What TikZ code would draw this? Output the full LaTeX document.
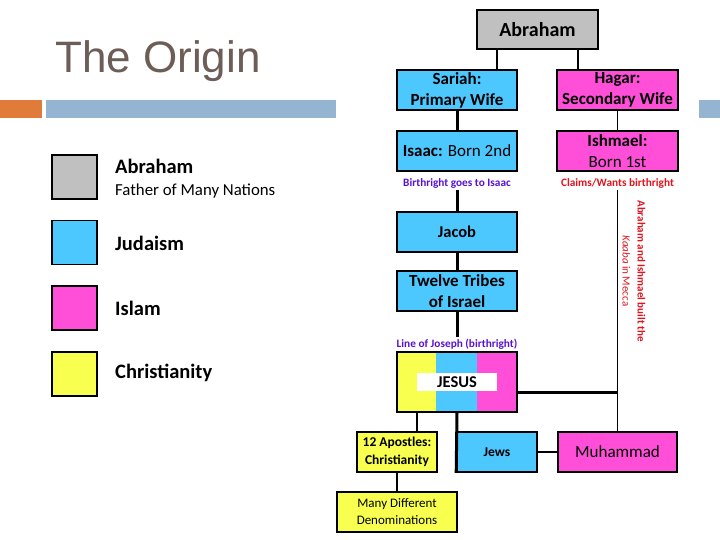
\documentclass[tikz,border=0pt]{standalone}
\usepackage{fontspec}
\setmainfont{Carlito}
\newfontfamily\titlefont{Liberation Sans}
\definecolor{cgray}{HTML}{C0C0C0}
\definecolor{cblue}{HTML}{4DC8FF}
\definecolor{cmag}{HTML}{FF4FD8}
\definecolor{cyel}{HTML}{F8FF4F}
\definecolor{corange}{HTML}{E07B39}
\definecolor{cbar}{HTML}{94B4D1}
\definecolor{ctitle}{HTML}{6D5D57}
\definecolor{cpurple}{HTML}{5A12D2}
\definecolor{cred}{HTML}{E0141E}
\tikzset{
  box/.style={draw, line width=1.6pt, rectangle, inner sep=0pt, align=center, minimum height=40pt},
  conn/.style={line width=1.6pt},
  thick conn/.style={line width=3pt},
  legsq/.style={draw, line width=1.2pt, rectangle, minimum width=45pt, minimum height=44pt, inner sep=0pt},
  legtxt/.style={anchor=west, inner sep=0pt, font=\fontsize{20.5}{22}\selectfont\bfseries},
  note/.style={inner sep=1.5pt, font=\fontsize{11.3}{13}\selectfont\bfseries}
}
\begin{document}
\begin{tikzpicture}[x=1pt,y=-1pt]
\useasboundingbox (0,0) rectangle (720,540);
\fill[white] (0,0) rectangle (720,540);
% title and bars
\node[anchor=base west, inner sep=0pt, text=ctitle, font=\titlefont\fontsize{44}{48}\selectfont] (title) at (55,73) {The Origin};
\fill[corange] (0,100) rectangle (42,118);
\fill[cbar] (46,100) rectangle (336,118);
\fill[cbar] (699,100) rectangle (720,118);
% legend
\node[legsq, fill=cgray] (lg1) at (74.5,177) {};
\node[legsq, fill=cblue] (lg2) at (74.5,242.5) {};
\node[legsq, fill=cmag] (lg3) at (74.5,308) {};
\node[legsq, fill=cyel] (lg4) at (74.5,374) {};
\node[legtxt] (lt1) at (115,166) {Abraham};
\node[anchor=west, inner sep=0pt, font=\fontsize{16.8}{18}\selectfont] (lt1b) at (115,191) {Father of Many Nations};
\node[legtxt] (lt2) at (115,243) {Judaism};
\node[legtxt] (lt3) at (115,308) {Islam};
\node[legtxt] (lt4) at (115,373) {Christianity};
% chart boxes
\node[box, fill=cgray, minimum width=121pt, minimum height=39pt, font=\fontsize{20}{22}\selectfont\bfseries] (abraham) at (537.5,29.5) {Abraham};
\node[box, fill=cblue, minimum width=120pt, font=\fontsize{17}{21}\selectfont\bfseries] (sariah) at (457,90) {Sariah:\\Primary Wife};
\node[box, fill=cmag, minimum width=121pt, font=\fontsize{17}{21}\selectfont\bfseries] (hagar) at (617.5,90) {Hagar:\\Secondary Wife};
\node[box, fill=cblue, minimum width=120pt, font=\fontsize{17}{21}\selectfont] (isaac) at (457,151) {\textbf{Isaac:} Born 2nd};
\node[box, fill=cmag, minimum width=121pt, font=\fontsize{17}{21}\selectfont] (ishmael) at (617.5,151) {\textbf{Ishmael:}\\Born 1st};
\node[note, text=cpurple] (birth) at (457,183) {Birthright goes to Isaac};
\node[note, text=cred] (claims) at (617.5,183) {Claims/Wants birthright};
\node[box, fill=cblue, minimum width=120pt, font=\fontsize{16.5}{21}\selectfont\bfseries] (jacob) at (457,232) {Jacob};
\node[box, fill=cblue, minimum width=120pt, font=\fontsize{17}{21}\selectfont\bfseries] (tribes) at (457,291) {Twelve Tribes\\of Israel};
\node[note, text=cpurple] (joseph) at (457,344) {Line of Joseph (birthright)};
% JESUS
\fill[cyel] (397,352) rectangle (436,412);
\fill[cblue] (436,352) rectangle (477,412);
\fill[cmag] (477,352) rectangle (517,412);
\node[box, minimum width=120pt, minimum height=60pt] (jesus) at (457,382) {};
\node[fill=white, minimum width=80pt, minimum height=18pt, inner sep=0pt, font=\fontsize{16.5}{18}\selectfont\bfseries] (jesuslbl) at (457,382) {JESUS};
\node[box, fill=cyel, minimum width=80pt, font=\fontsize{13.5}{18}\selectfont\bfseries] (apostles) at (397,452) {12 Apostles:\\Christianity};
\node[box, fill=cblue, minimum width=80pt, font=\fontsize{13.5}{18}\selectfont\bfseries] (jews) at (497,452) {Jews};
\node[box, fill=cmag, minimum width=119pt, font=\fontsize{17}{20}\selectfont] (muhammad) at (617.5,452) {Muhammad};
\node[box, fill=cyel, minimum width=120pt, font=\fontsize{13}{17}\selectfont] (denom) at (397,512) {Many Different\\Denominations};
% vertical note
\node[rotate=-90, text=cred, align=center, inner sep=0pt, font=\fontsize{11}{15}\selectfont] (kaaba) at (634,271) {\textbf{Abraham and Ishmael built the}\\\textit{Kaaba} in Mecca};
% connectors
\draw[conn] ([xshift=-40.5pt]abraham.south) -- ([xshift=-40.5pt]abraham.south |- sariah.north);
\draw[conn] ([xshift=40.5pt]abraham.south) -- ([xshift=40.5pt]abraham.south |- hagar.north);
\draw[thick conn] (sariah.south) -- (isaac.north);
\draw[conn] (hagar.south) -- (ishmael.north);
\draw[thick conn] (birth.south) -- (jacob.north);
\draw[thick conn] (jacob.south) -- (tribes.north);
\draw[thick conn] (tribes.south) -- (joseph.north);
\draw[conn] (claims.south) -- (muhammad.north);
\draw[thick conn] ([yshift=-10pt]jesus.east) -- ([yshift=-10pt]jesus.east -| muhammad.north);
\draw[conn] ([xshift=-40pt]jesus.south) -- ([xshift=-40pt]jesus.south |- apostles.north);
\draw[thick conn] (jesus.south) -- (jews.south west);
\draw[conn] (jews.east) -- (muhammad.west);
\draw[conn] (apostles.south) -- (denom.north);
\end{tikzpicture}
\end{document}
